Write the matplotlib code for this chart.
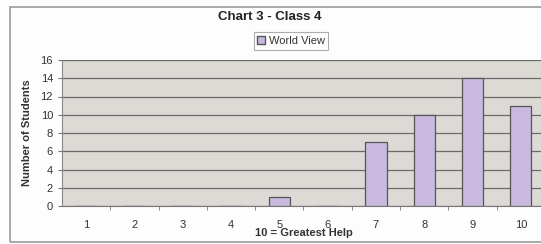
import matplotlib
matplotlib.use("Agg")
import matplotlib.pyplot as plt
from matplotlib.patches import Rectangle, Patch

plt.rcParams['font.family'] = ['Liberation Sans', 'DejaVu Sans']

# Data
categories = [1, 2, 3, 4, 5, 6, 7, 8, 9, 10]
students = [0, 0, 0, 0, 1, 0, 7, 10, 14, 11]
y_ticks = [0, 2, 4, 6, 8, 10, 12, 14, 16]

fig = plt.figure(figsize=(5.41, 2.44), dpi=100)
fig.patch.set_facecolor('#fdfdfd')

# outer chart border
fig.patches.append(Rectangle((10 / 541, 2 / 244), 1.0, 235 / 244,
                             transform=fig.transFigure, fill=False,
                             edgecolor='#9a9a9a', lw=1.2))

ax = fig.add_axes([62 / 541, 1 - 206 / 244, 483 / 541, 146 / 244])
ax.set_facecolor('#dddad5')

ax.bar(categories, students, width=0.44, color='#c9b9df',
       edgecolor='#555555', linewidth=0.9, zorder=3)

ax.set_xlim(0.5, 10.5)
ax.set_ylim(0, 16)
ax.set_yticks(y_ticks)
ax.set_xticks(categories)
ax.set_xticks([c + 0.5 for c in categories[:-1]], minor=True)
ax.yaxis.grid(True, color='#6a6a6a', lw=0.9, zorder=0)
ax.tick_params(axis='y', labelsize=8, length=3, color='#777777', colors='#333333')
ax.tick_params(axis='x', which='major', labelsize=8, length=0, pad=10, colors='#333333')
ax.tick_params(axis='x', which='minor', length=3, color='#777777')

for side in ['top', 'right']:
    ax.spines[side].set_visible(False)
ax.spines['left'].set_color('#888888')
ax.spines['bottom'].set_color('#777777')

ax.set_ylabel('Number of Students', fontsize=8, fontweight='bold', color='#333333', labelpad=6)
ax.set_xlabel('10 = Greatest Help', fontsize=8, fontweight='bold', color='#333333', labelpad=-1)

fig.text(270 / 541, 1 - 17 / 244, 'Chart 3 - Class 4', ha='center', va='center',
         fontsize=9.5, fontweight='bold', color='#222222')

leg = fig.legend(handles=[Patch(facecolor='#c9b9df', edgecolor='#555555', label='World View')],
                 loc='center', bbox_to_anchor=(291 / 541, 1 - 41 / 244), fontsize=8,
                 frameon=True, fancybox=False, handlelength=0.7, handleheight=0.7,
                 handletextpad=0.3, borderpad=0.35, labelcolor='#333333')
leg.get_frame().set_edgecolor('#999999')
leg.get_frame().set_linewidth(0.8)

fig.savefig('out.png', dpi=100, facecolor=fig.get_facecolor())
